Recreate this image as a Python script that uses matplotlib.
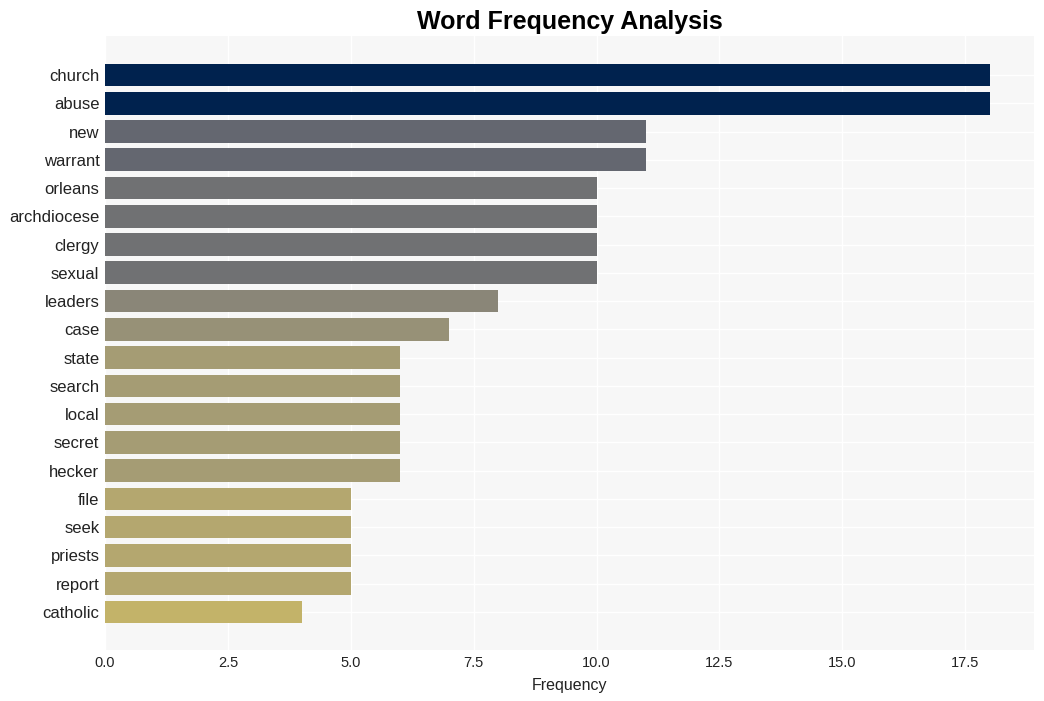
import matplotlib
matplotlib.use("Agg")
import matplotlib.pyplot as plt
import numpy as np

# word counts, top to bottom
words = ["church", "abuse", "new", "warrant", "orleans", "archdiocese", "clergy",
         "sexual", "leaders", "case", "state", "search", "local", "secret",
         "hecker", "file", "seek", "priests", "report", "catholic"]
counts = [18, 18, 11, 11, 10, 10, 10, 10, 8, 7, 6, 6, 6, 6, 6, 5, 5, 5, 5, 4]

plt.rcParams["font.family"] = ["Liberation Sans", "DejaVu Sans"]

fig = plt.figure(figsize=(10.44, 7.01), dpi=100)
ax = fig.add_axes([105 / 1044, 51 / 701, 929 / 1044, 614 / 701])

# colour by count: darker for the frequent words
norm = matplotlib.colors.Normalize(vmin=0, vmax=max(counts))
cmap = plt.get_cmap("cividis_r")
colors = [cmap(norm(c)) for c in counts]

y = np.arange(len(words))
ax.barh(y, counts, height=0.8, color=colors, zorder=3)

ax.set_facecolor("#f7f7f7")
ax.grid(True, color="white", linewidth=1.0, zorder=0)
for s in ax.spines.values():
    s.set_visible(False)

ax.set_yticks(y)
ax.set_yticklabels(words)
ax.set_ylim(len(words) - 1 + 1.35, -1.38)
ax.set_xlim(0, max(counts) * 1.05)
ax.set_xticks(np.arange(0, 18.0, 2.5))
ax.tick_params(axis="both", length=0, colors="#222222")
ax.tick_params(axis="y", labelsize=12, pad=4)
ax.tick_params(axis="x", labelsize=10.5, pad=4)
ax.set_xlabel("Frequency", fontsize=11.5, color="#222222", labelpad=6)

ax.set_title("Word Frequency Analysis", fontsize=18, fontweight="bold", pad=5)

fig.savefig("out.png", dpi=100)
